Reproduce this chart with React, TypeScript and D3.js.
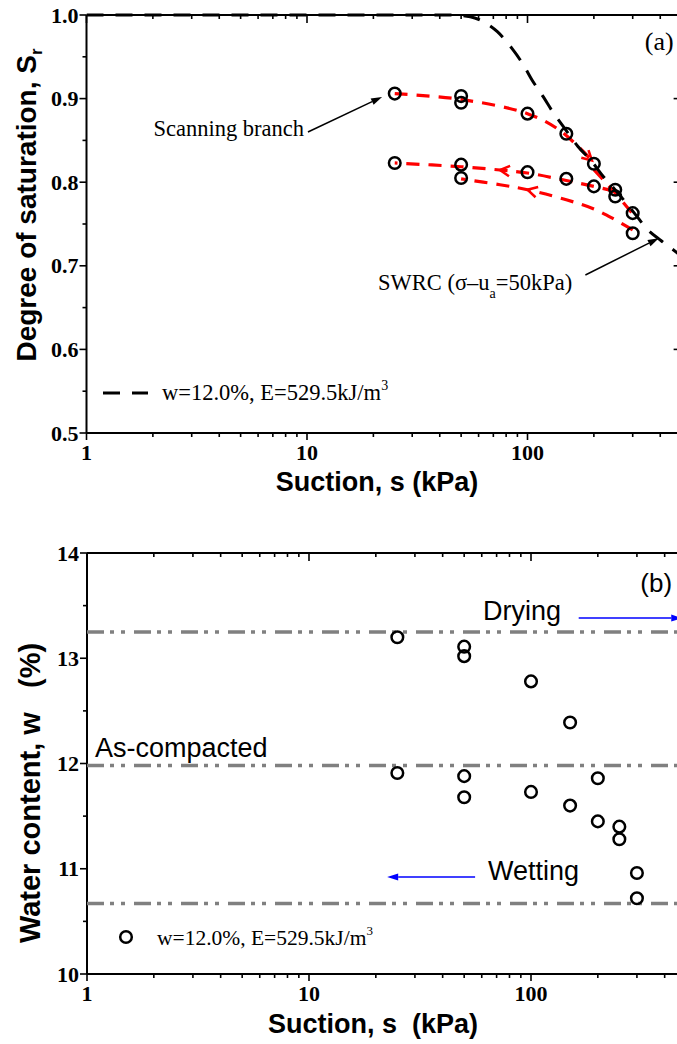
import * as d3 from "d3";
import React from "react";

const W = 677;
const H = 1044;

// ---------- panel (a): degree of saturation ----------
const ptSuctionA = [25, 50, 50, 100, 150, 200, 250, 250, 300, 300, 25, 50, 50, 100, 150, 200];
const ptSrA = [0.906, 0.903, 0.895, 0.882, 0.858, 0.822, 0.791, 0.783, 0.763, 0.739, 0.823, 0.821, 0.805, 0.812, 0.804, 0.795];

// SWRC at sigma-ua = 50 kPa (black dashed)
const swrcSuction = [1, 45, 55, 63, 73, 85, 96, 105, 118, 131, 146, 169, 194, 222, 244, 316, 343, 404, 480, 500];
const swrcSr = [1.0, 1.0, 0.998, 0.992, 0.98, 0.96, 0.94, 0.922, 0.902, 0.883, 0.866, 0.843, 0.826, 0.806, 0.794, 0.758, 0.746, 0.73, 0.715, 0.711];

// scanning branches (red dashed)
const dry1Suction = [25, 50, 100, 140, 196];
const dry1Sr = [0.906, 0.899, 0.882, 0.862, 0.826];
const dry2Suction = [200, 250, 300];
const dry2Sr = [0.815, 0.787, 0.762];
const wet1Suction = [250, 200, 150, 100, 75, 50, 25];
const wet1Sr = [0.789, 0.795, 0.802, 0.811, 0.8146, 0.8185, 0.823];
const wet2Suction = [300, 250, 200, 150, 100, 75, 50];
const wet2Sr = [0.743, 0.755, 0.768, 0.779, 0.791, 0.797, 0.804];

// ---------- panel (b): water content ----------
const ptSuctionB = [25, 25, 50, 50, 50, 50, 100, 100, 150, 150, 200, 200, 250, 250, 300, 300];
const ptWB = [13.2, 11.91, 13.11, 13.02, 11.88, 11.68, 12.78, 11.73, 12.39, 11.6, 11.86, 11.45, 11.4, 11.28, 10.96, 10.72];
const levelDrying = 13.25;
const levelCompacted = 11.98;
const levelWetting = 10.67;

const xTickValues = [1, 10, 100];
const yTicksA = [0.5, 0.6, 0.7, 0.8, 0.9, 1.0];
const yTicksB = [10, 11, 12, 13, 14];

const SERIF = "'Times New Roman', 'Liberation Serif', serif";
const SANS = "Arial, 'Liberation Sans', sans-serif";

const xMinor: number[] = [];
[1, 10, 100].forEach((d) => {
  for (let k = 2; k <= 9; k++) if (d * k <= 500) xMinor.push(d * k);
});

// scales
const xA = d3.scaleLog().domain([1, 500]).range([86.5, 86.5 + 220.5 * Math.log10(500)]);
const yA = d3.scaleLinear().domain([0.5, 1.0]).range([433, 15]);
const xB = d3.scaleLog().domain([1, 500]).range([87, 87 + 222 * Math.log10(500)]);
const yB = d3.scaleLinear().domain([10, 14]).range([974, 553]);

function chevron(tx, ty, fx, fy, len = 11, ang = 0.5) {
  const a = Math.atan2(ty - fy, tx - fx);
  const p1 = [tx - len * Math.cos(a - ang), ty - len * Math.sin(a - ang)];
  const p2 = [tx - len * Math.cos(a + ang), ty - len * Math.sin(a + ang)];
  return `M${p1[0]},${p1[1]}L${tx},${ty}L${p2[0]},${p2[1]}`;
}

function Arrow({ x1, y1, x2, y2, color, width = 1.5 }) {
  const a = Math.atan2(y2 - y1, x2 - x1);
  const L = 11, h = 3.5;
  const bx = x2 - L * Math.cos(a), by = y2 - L * Math.sin(a);
  const pts = [
    [x2, y2],
    [bx + h * Math.sin(a), by - h * Math.cos(a)],
    [bx - h * Math.sin(a), by + h * Math.cos(a)],
  ];
  return (
    <g>
      <line x1={x1} y1={y1} x2={bx} y2={by} stroke={color} strokeWidth={width} />
      <polygon points={pts.map((p) => p.join(",")).join(" ")} fill={color} />
    </g>
  );
}

function Frame({ x, y, yTicks, yMinor, fmt }) {
  const [x0, x1] = x.range();
  const [y0, y1] = y.range(); // y0 bottom, y1 top
  return (
    <g stroke="#000" strokeWidth={1.6}>
      <line x1={x0} y1={y0} x2={x1} y2={y0} strokeWidth={2} />
      <line x1={x0} y1={y1} x2={x1} y2={y1} strokeWidth={2} />
      <line x1={x0} y1={y0} x2={x0} y2={y1} strokeWidth={2} />
      <line x1={x1} y1={y0} x2={x1} y2={y1} strokeWidth={2} />
      {xTickValues.map((t) => (
        <g key={"xm" + t}>
          <line x1={x(t)} x2={x(t)} y1={y0} y2={y0 + 7} />
          <line x1={x(t)} x2={x(t)} y1={y1} y2={y1 + 8} />
        </g>
      ))}
      {xMinor.map((t) => (
        <g key={"xn" + t}>
          <line x1={x(t)} x2={x(t)} y1={y0} y2={y0 + 4} />
          <line x1={x(t)} x2={x(t)} y1={y1} y2={y1 + 4} />
        </g>
      ))}
      {yTicks.map((t) => (
        <g key={"ym" + t}>
          <line x1={x0 - 7} x2={x0} y1={y(t)} y2={y(t)} />
          <line x1={x1 - 8} x2={x1} y1={y(t)} y2={y(t)} />
        </g>
      ))}
      {yMinor.map((t) => (
        <g key={"yn" + t}>
          <line x1={x0 - 4} x2={x0} y1={y(t)} y2={y(t)} />
          <line x1={x1 - 4} x2={x1} y1={y(t)} y2={y(t)} />
        </g>
      ))}
      <g stroke="none" fill="#000" fontFamily={SERIF} fontWeight="bold" fontSize={22}>
        {xTickValues.map((t) => (
          <text key={"xl" + t} x={x(t)} y={y0 + 27} textAnchor="middle">
            {t}
          </text>
        ))}
        {yTicks.map((t) => (
          <text key={"yl" + t} x={x0 - 8} y={y(t) + 7.5} textAnchor="end">
            {fmt(t)}
          </text>
        ))}
      </g>
    </g>
  );
}

export default function App() {
  const toPx = (ss, vv) => ss.map((s, i) => [xA(s), yA(vv[i])]);
  const linePath = (ss, vv) =>
    d3.line().curve(d3.curveCatmullRom.alpha(0.5))(toPx(ss, vv) as any);

  const swrcPath = d3.line().curve(d3.curveMonotoneX)(
    swrcSuction.map((s, i) => [xA(s), yA(swrcSr[i])]) as any
  );

  const redLines = [
    { s: dry1Suction, v: dry1Sr, tip: dry1Suction.length - 1 },
    { s: dry2Suction, v: dry2Sr, tip: -1 },
    { s: wet1Suction, v: wet1Sr, tip: 4 },
    { s: wet2Suction, v: wet2Sr, tip: 4 },
  ];

  const yMinorA = d3.range(0.55, 1.0, 0.1);
  const yMinorB = d3.range(10.5, 14, 1);
  const xEndA = xA.range()[1];
  const xEndB = xB.range()[1];

  return (
    <svg
      width={W}
      height={H}
      style={{ position: "absolute", left: 0, top: 0, background: "#fff" }}
    >
      <defs>
        <clipPath id="clipA">
          <rect x={xA(1)} y={yA(1.0) - 3} width={xEndA - xA(1)} height={yA(0.5) - yA(1.0) + 3} />
        </clipPath>
      </defs>

      {/* ---------------- panel (a) ---------------- */}
      <Frame x={xA} y={yA} yTicks={yTicksA} yMinor={yMinorA} fmt={d3.format(".1f")} />

      <g clipPath="url(#clipA)">
        {redLines.map((l, i) => {
          const px = toPx(l.s, l.v);
          return (
            <g key={"r" + i} stroke="#ff0000" strokeWidth={3.2} fill="none">
              <path d={linePath(l.s, l.v)} strokeDasharray="13,9" />
              {l.tip >= 1 && (
                <path
                  d={chevron(px[l.tip][0], px[l.tip][1], px[l.tip - 1][0], px[l.tip - 1][1])}
                  strokeWidth={2.5}
                />
              )}
            </g>
          );
        })}
        <path d={swrcPath} fill="none" stroke="#000" strokeWidth={3} strokeDasharray="17,12" />
      </g>

      {ptSuctionA.map((s, i) => (
        <circle
          key={"pa" + i}
          cx={xA(s)}
          cy={yA(ptSrA[i])}
          r={5.8}
          fill="none"
          stroke="#000"
          strokeWidth={2.5}
        />
      ))}

      <g fontFamily={SERIF} fontSize={22.5} fill="#000">
        <text x={xA(9.69)} y={yA(0.855)} textAnchor="end">
          Scanning branch
        </text>
        <text x={xA(21)} y={yA(0.671)}>
          SWRC (σ–u
          <tspan fontSize={14} dy={8}>a</tspan>
          <tspan dy={-8}>=50kPa)</tspan>
        </text>
        <text x={xA(460)} y={yA(0.958)} textAnchor="end" fontSize={26}>
          (a)
        </text>
      </g>
      <Arrow x1={xA(10.1)} y1={yA(0.86)} x2={xA(21.9)} y2={yA(0.902)} color="#000" />
      <Arrow x1={xA(183)} y1={yA(0.689)} x2={xA(394)} y2={yA(0.733)} color="#000" />

      {/* legend (a) */}
      <line x1={103} x2={148} y1={393} y2={393} stroke="#000" strokeWidth={3} strokeDasharray="17,12" />
      <text x={162} y={400} fontFamily={SERIF} fontSize={22.5}>
        w=12.0%, E=529.5kJ/m
        <tspan fontSize={14} dy={-10}>3</tspan>
      </text>

      {/* axis titles (a) */}
      <text
        transform={`translate(36,205) rotate(-90)`}
        textAnchor="middle"
        fontFamily={SANS}
        fontWeight="bold"
        fontSize={28}
      >
        Degree of saturation, S
        <tspan fontSize={17} dy={6}>r</tspan>
      </text>
      <text x={377} y={491} textAnchor="middle" fontFamily={SANS} fontWeight="bold" fontSize={27}>
        Suction, s (kPa)
      </text>

      {/* ---------------- panel (b) ---------------- */}
      <Frame x={xB} y={yB} yTicks={yTicksB} yMinor={yMinorB} fmt={d3.format("d")} />

      {[levelDrying, levelCompacted, levelWetting].map((lv, i) => (
        <line
          key={"lv" + i}
          x1={xB(1)}
          x2={xEndB}
          y1={yB(lv)}
          y2={yB(lv)}
          stroke="#808080"
          strokeWidth={3.5}
          strokeDasharray="17,6,4,7,4,9"
        />
      ))}

      {ptSuctionB.map((s, i) => (
        <circle
          key={"pb" + i}
          cx={xB(s)}
          cy={yB(ptWB[i])}
          r={5.8}
          fill="none"
          stroke="#000"
          strokeWidth={2.5}
        />
      ))}

      <g fontFamily={SANS} fontSize={27} fill="#000">
        <text x={xB(432)} y={yB(13.63)} textAnchor="end" fontSize={26}>
          (b)
        </text>
        <text x={xB(60.8)} y={yB(13.363)}>Drying</text>
        <text x={xB(1.086)} y={yB(12.062)}>As-compacted</text>
        <text x={xB(64)} y={yB(10.893)}>Wetting</text>
      </g>
      <Arrow x1={xB(164)} y1={yB(13.382)} x2={xB(480)} y2={yB(13.382)} color="#0000ff" />
      <Arrow x1={xB(56)} y1={yB(10.922)} x2={xB(22.5)} y2={yB(10.922)} color="#0000ff" />

      {/* legend (b) */}
      <circle cx={126} cy={937} r={5.8} fill="none" stroke="#000" strokeWidth={2.5} />
      <text x={157} y={945} fontFamily={SERIF} fontSize={21.5}>
        w=12.0%, E=529.5kJ/m
        <tspan fontSize={13} dy={-10}>3</tspan>
      </text>

      {/* axis titles (b) */}
      <text
        transform={`translate(40,793) rotate(-90)`}
        textAnchor="middle"
        fontFamily={SANS}
        fontWeight="bold"
        fontSize={29}
        style={{ whiteSpace: "pre" }}
      >
        {"Water content, w   (%)"}
      </text>
      <text
        x={373}
        y={1033}
        textAnchor="middle"
        fontFamily={SANS}
        fontWeight="bold"
        fontSize={27}
        style={{ whiteSpace: "pre" }}
      >
        {"Suction, s  (kPa)"}
      </text>
    </svg>
  );
}
